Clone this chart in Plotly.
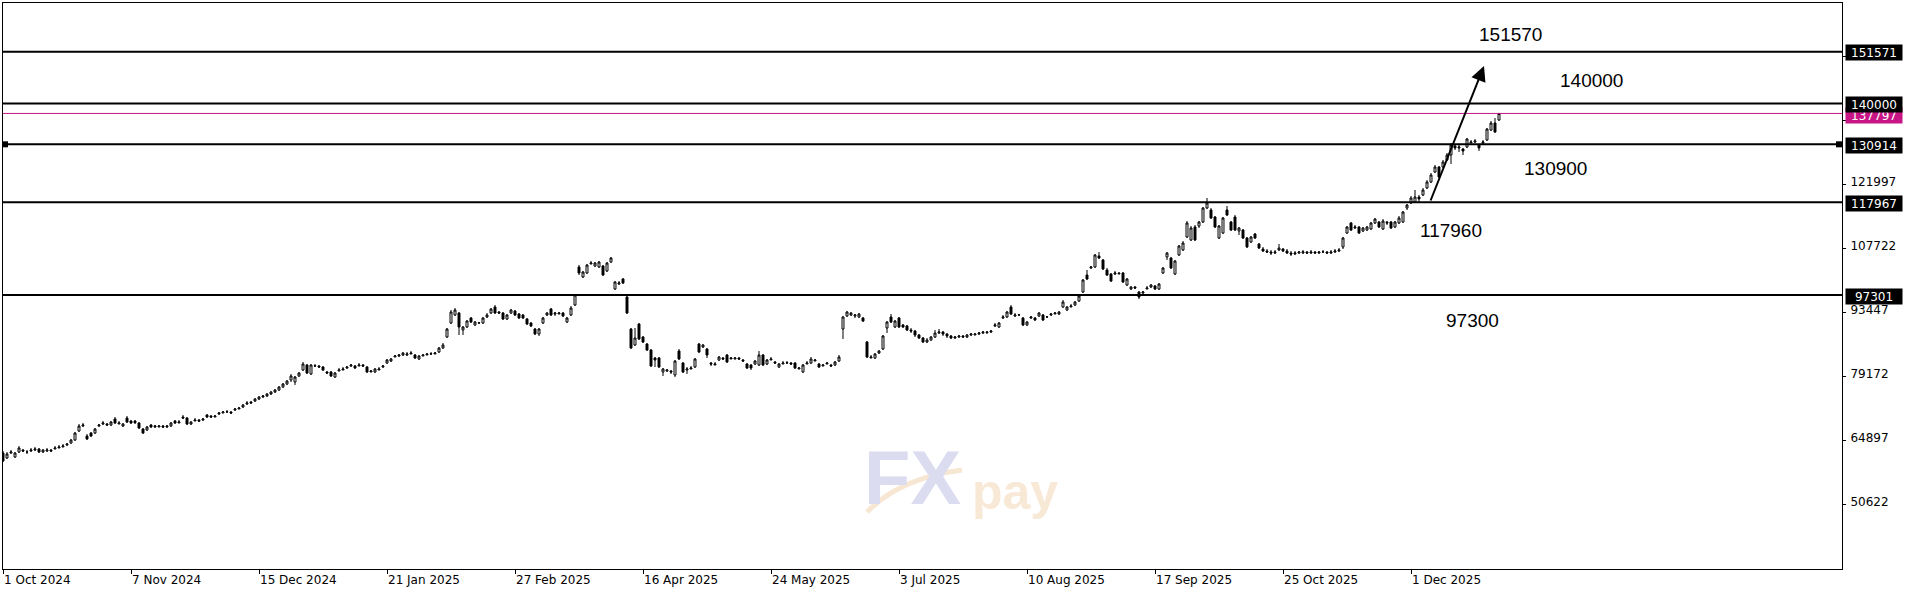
import plotly.graph_objects as go

# daily candles (price units)
opens = [
    62058, 60942, 62058, 61166, 62281, 62727, 62281, 62504, 62727, 62950,
    62281, 62504, 62727, 62950, 63173, 63396, 63843, 64289, 64958, 66965,
    68080, 65850, 66519, 66519, 68080, 68527, 68527, 68304, 69642, 68527,
    68080, 69865, 69196, 69196, 68750, 67411, 67188, 68304, 67857, 67857,
    68080, 67857, 68080, 69196, 68750, 70088, 69865, 68527, 69196, 69419,
    69419, 70534, 70311, 70088, 70757, 70980, 71203, 71203, 71649, 71872,
    72318, 72988, 73434, 73657, 74103, 74549, 74772, 75218, 75665, 76111,
    76780, 77449, 78341, 77895, 79234, 80572, 81687, 79680, 81464, 81464,
    81241, 80126, 80126, 79010, 80349, 80572, 81018, 81464, 81464, 81464,
    81687, 81241, 80126, 80126, 80572, 81241, 82133, 82579, 83472, 83695,
    83918, 83918, 84141, 83918, 83026, 83695, 83918, 84141, 84141, 84587,
    85479, 87933, 91056, 92840, 93286, 89494, 90164, 92171, 90610, 91056,
    91056, 92394, 93286, 94625, 93509, 93286, 91948, 93286, 93732, 93063,
    92840, 91948, 91056, 89717, 88602, 91056, 92840, 94179, 93063, 93063,
    93286, 91279, 92840, 95071, 103547, 101316, 102209, 104216, 103770, 103547,
    103770, 102655, 104662, 98640, 99755, 100870, 96855, 89717, 86149, 90833,
    87933, 86372, 85033, 83249, 83249, 80126, 80349, 80349, 79457, 84810,
    82133, 80572, 80795, 81241, 86372, 85703, 85256, 82133, 81687, 82802,
    83249, 83918, 83026, 83026, 83249, 82802, 81910, 81687, 81910, 81687,
    83918, 81910, 82802, 82356, 81241, 81910, 82133, 82133, 82133, 80795,
    80126, 81910, 82133, 82579, 81910, 81464, 81910, 81687, 81687, 82579,
    89717, 92617, 92840, 92617, 92394, 92171, 86818, 83249, 83249, 84364,
    85256, 89941, 92394, 90164, 92171, 90610, 90387, 89494, 89271, 88379,
    87710, 86818, 87264, 87933, 88825, 89048, 88602, 88156, 87710, 87933,
    88156, 87933, 88379, 88379, 88602, 88825, 88900, 89048, 90387, 90164,
    92171, 92394, 94625, 92617, 92840, 92171, 90610, 92171, 92171, 92617,
    92840, 92394, 92840, 93063, 93063, 94625, 93955, 94625, 95071, 95963,
    97971, 101763, 103324, 103547, 106001, 105108, 102878, 101986, 101986, 101986,
    102209, 99532, 98640, 99086, 97971, 97748, 98640, 99086, 99309, 98640,
    102209, 105778, 105554, 101986, 106224, 107339, 110239, 109570, 112470, 112693,
    113585, 116708, 116261, 114700, 110016, 111131, 116261, 113585, 114700, 111577,
    111800, 110016, 109124, 110908, 108678, 107562, 107116, 106893, 106670, 107339,
    107562, 107116, 106670, 106447, 106670, 106670, 106893, 106670, 106893, 106670,
    106893, 106893, 106670, 106893, 107116, 108008, 111131, 113362, 112247, 112470,
    111577, 111800, 112023, 113362, 113585, 112023, 113585, 113585, 112470, 113362,
    113585, 116708, 117823, 118046, 119161, 119607, 121169, 122507, 124738, 125853,
    125853, 127414, 128530, 130538, 130091, 129868, 130314, 131207, 131430, 130761,
    131207, 131876, 134106, 135668, 136337,
]
highs = [
    62504, 62281, 62727, 62281, 63619, 62950, 62727, 63173, 63396, 63173,
    62950, 63173, 62950, 63619, 63843, 64066, 64289, 65181, 66742, 68527,
    68750, 66296, 66742, 67634, 68527, 69196, 68750, 69196, 70088, 69196,
    68750, 70311, 69419, 69419, 68973, 67634, 68080, 68527, 68304, 68304,
    68304, 68304, 68973, 69419, 69419, 70534, 70088, 69196, 69865, 69642,
    69865, 70757, 70534, 70534, 71203, 71426, 71649, 71426, 72095, 72318,
    72988, 73657, 73657, 74326, 74772, 74995, 75441, 75888, 76334, 77003,
    77672, 78341, 79680, 79234, 80126, 82356, 81910, 81910, 81910, 81687,
    81464, 80349, 80349, 80126, 81018, 81241, 81464, 81910, 81687, 82133,
    81910, 81464, 80572, 81018, 81241, 81687, 83026, 83249, 83918, 84141,
    84587, 84587, 84810, 84141, 83918, 84141, 84364, 84587, 84587, 85703,
    86595, 89941, 93955, 94402, 93509, 90387, 91725, 92394, 91502, 91279,
    92394, 93286, 94402, 95071, 93732, 93509, 93063, 94179, 93955, 93286,
    93063, 92171, 91279, 89941, 89941, 92394, 93509, 94402, 93509, 93509,
    93509, 92394, 94848, 97525, 103993, 102655, 104216, 104885, 104662, 104885,
    103993, 104662, 105778, 100424, 100424, 101093, 97078, 89941, 89941, 91056,
    88156, 86595, 85256, 83472, 83472, 81018, 80795, 80572, 82802, 85256,
    82356, 81241, 81464, 83249, 86595, 86372, 85479, 82356, 82356, 83695,
    83472, 84141, 83472, 83472, 83472, 83026, 82133, 81910, 82802, 84810,
    84141, 83026, 83472, 82579, 82133, 82579, 82579, 82356, 82356, 81241,
    81910, 82579, 83472, 83026, 82133, 81910, 82356, 81910, 82579, 83918,
    92617, 93732, 93509, 93063, 93286, 92394, 87041, 83918, 84364, 85033,
    88379, 91502, 93063, 91725, 92394, 90833, 90610, 89941, 89494, 88602,
    87933, 87710, 88156, 89494, 89717, 89271, 88825, 88379, 88156, 88379,
    88379, 88602, 88825, 88825, 89048, 89271, 89271, 89494, 91056, 91279,
    92840, 93732, 95071, 93286, 93063, 92394, 91502, 92617, 92394, 93509,
    93063, 92617, 93286, 93509, 93732, 96186, 94848, 95294, 95963, 97301,
    100870, 102878, 103770, 106447, 106893, 105331, 103324, 102209, 102655, 102432,
    102432, 101093, 99309, 99309, 98194, 98194, 99309, 99755, 99532, 99978,
    103547, 106893, 105778, 105108, 108455, 109347, 113808, 112693, 112916, 113808,
    116931, 118938, 116708, 114923, 112916, 114700, 117154, 113808, 115146, 112470,
    112023, 110239, 110462, 111131, 108901, 108008, 107562, 107339, 107339, 108678,
    107785, 107562, 107116, 107116, 107116, 107339, 107116, 107339, 107116, 107116,
    107339, 107116, 107339, 107562, 107785, 110239, 112693, 113585, 112916, 112693,
    112470, 112693, 113585, 114477, 113808, 114254, 113808, 113808, 113808, 114923,
    116038, 117600, 119384, 120723, 119607, 121169, 122953, 124515, 126299, 126076,
    127414, 128976, 131207, 130984, 130761, 130091, 132322, 131876, 132099, 130984,
    131876, 134552, 136114, 136783, 137898,
]
lows = [
    60050, 60719, 61835, 60942, 62058, 62281, 61835, 62281, 62504, 62058,
    62058, 62281, 62281, 62950, 63173, 63396, 63619, 64066, 64735, 66742,
    67857, 64958, 65627, 66296, 67857, 68304, 68080, 68080, 68527, 68527,
    67857, 68750, 68527, 68527, 67411, 66296, 66965, 67634, 67634, 67857,
    67634, 67634, 67857, 68527, 68750, 69642, 68304, 68304, 69196, 68973,
    69196, 69865, 69865, 70088, 70534, 70980, 70980, 70757, 71426, 71872,
    72095, 72765, 72988, 73434, 73880, 74326, 74549, 74995, 75441, 75888,
    76557, 77226, 77895, 77226, 79010, 80349, 79680, 79457, 81241, 81018,
    80349, 79680, 79010, 78787, 80349, 80572, 80795, 81241, 80795, 81464,
    81241, 79903, 80126, 79903, 80572, 81018, 81910, 82356, 83472, 83472,
    83695, 83695, 84141, 83026, 82802, 83695, 83918, 83918, 84141, 84364,
    85256, 87710, 90833, 92617, 88379, 88379, 89941, 91056, 90387, 90833,
    90833, 92171, 93063, 93063, 93063, 91725, 91725, 93063, 92617, 91948,
    91948, 90610, 90164, 88379, 88156, 90833, 92617, 92617, 92617, 93063,
    92394, 91056, 92617, 94848, 101763, 101093, 101986, 104216, 103547, 103324,
    101540, 102432, 104439, 98417, 99532, 99755, 93063, 85256, 85926, 87264,
    86595, 84810, 81241, 81241, 81018, 79234, 80126, 79680, 79010, 82802,
    79903, 79680, 80795, 81018, 84364, 85479, 83249, 81464, 81687, 82579,
    82802, 82133, 83026, 82950, 82802, 82356, 80795, 80572, 81687, 81464,
    81464, 81687, 82802, 81910, 81018, 81910, 81910, 81687, 80795, 80795,
    79903, 81910, 81910, 82579, 81018, 81464, 81910, 81241, 81464, 82356,
    87487, 92394, 92617, 92171, 92171, 91279, 83249, 83249, 83026, 84141,
    85033, 88825, 91056, 89941, 89941, 89941, 89271, 88825, 87933, 87487,
    86595, 86595, 87041, 87710, 88602, 88156, 87710, 87487, 87487, 87710,
    87710, 87710, 88156, 88379, 88379, 88602, 88602, 88825, 90164, 89941,
    91948, 92171, 92840, 92394, 92617, 90387, 90387, 91948, 91502, 92394,
    91502, 92171, 92617, 93063, 92840, 94402, 93732, 94625, 94848, 95740,
    97748, 100647, 103101, 103324, 105331, 102878, 101540, 100201, 101763, 101986,
    99978, 99309, 98417, 98640, 96409, 97525, 98640, 98863, 98417, 98417,
    101986, 105108, 103101, 101763, 106001, 107116, 110016, 109347, 109347, 112247,
    113362, 116485, 114254, 112247, 109793, 110908, 114923, 111577, 111577, 110685,
    109793, 107785, 108901, 109793, 107562, 106893, 106670, 106224, 106447, 107116,
    106893, 106447, 106001, 106224, 106447, 106447, 106447, 106447, 106447, 106447,
    106670, 106447, 106447, 106670, 106893, 107562, 110908, 111577, 112023, 110908,
    111354, 111577, 111800, 113139, 112247, 111800, 112916, 112023, 112247, 113139,
    113362, 116261, 117600, 117823, 117823, 119384, 120946, 122284, 124515, 123399,
    125630, 127191, 126522, 129645, 129199, 128530, 130091, 131207, 131207, 129422,
    130761, 131653, 133883, 133437, 136114,
]
closes = [
    60273, 61835, 62281, 62058, 63173, 62504, 62281, 62727, 62950, 62281,
    62727, 62727, 62504, 63173, 63396, 63619, 64066, 64958, 66519, 68080,
    68304, 65181, 65850, 67411, 68304, 68750, 68304, 68973, 68750, 68750,
    68527, 68973, 68750, 68800, 67634, 66519, 67857, 67857, 68080, 68080,
    67857, 68080, 68750, 68750, 68973, 69865, 68527, 68973, 69419, 69196,
    69642, 70088, 70088, 70311, 70980, 71203, 71250, 70980, 71872, 72095,
    72765, 73211, 73211, 74103, 74549, 74772, 75218, 75665, 76111, 76780,
    77449, 78118, 79234, 79010, 79903, 81910, 79903, 81687, 81500, 81241,
    80572, 79903, 79234, 79903, 80572, 80795, 81241, 81687, 81018, 81687,
    81464, 80126, 80349, 80795, 80795, 81464, 82802, 83026, 83695, 83918,
    84364, 84141, 84364, 83249, 83695, 83918, 84141, 84180, 84364, 85479,
    86149, 89717, 93509, 93955, 90164, 90164, 91502, 91279, 91279, 91100,
    92171, 92840, 94179, 93286, 93286, 91948, 92840, 93955, 92840, 92171,
    92171, 90833, 90387, 88602, 89717, 92171, 93286, 92840, 93286, 93286,
    92617, 92171, 94402, 97301, 102209, 102432, 103993, 104439, 104439, 104662,
    101763, 104439, 105554, 100201, 99978, 99978, 93286, 85479, 87710, 87487,
    86818, 85033, 81464, 82802, 81241, 80795, 80572, 80126, 82579, 83026,
    80126, 80795, 81018, 83026, 84587, 86149, 83918, 81910, 81910, 83472,
    83026, 82356, 83249, 83249, 83026, 82579, 81018, 81018, 82579, 83918,
    81687, 82802, 83026, 82133, 81910, 82133, 82180, 81910, 81018, 81018,
    81687, 82133, 83026, 82802, 81241, 81687, 82133, 81464, 82356, 83472,
    92394, 93509, 93286, 92840, 93063, 91502, 83472, 83472, 84141, 84810,
    88156, 91279, 91279, 91502, 90164, 90164, 89494, 89271, 88379, 87710,
    86818, 87264, 87933, 88825, 89048, 88602, 88156, 87710, 87933, 88156,
    87933, 88379, 88602, 88602, 88825, 89048, 89048, 89271, 90610, 91056,
    92394, 93509, 93063, 92840, 92880, 90610, 91279, 92394, 91725, 93286,
    91725, 92420, 93063, 93286, 93509, 95740, 94625, 94848, 95740, 97078,
    100647, 100870, 103547, 106224, 105554, 103101, 101763, 100424, 102209, 102150,
    100201, 100870, 99086, 98863, 96855, 97971, 98863, 99532, 98640, 99755,
    103324, 106670, 103324, 104885, 108232, 108901, 113362, 112247, 109570, 113585,
    116708, 117823, 114477, 112470, 112693, 114477, 115146, 111800, 111800, 112247,
    110016, 108008, 110239, 110016, 107785, 107116, 106893, 106670, 106893, 107785,
    107116, 106670, 106447, 106670, 106893, 106950, 106670, 106893, 106670, 106893,
    106920, 106670, 106893, 107116, 107339, 110016, 112470, 111800, 112470, 111131,
    112247, 112470, 113362, 114254, 112470, 113808, 113362, 112247, 113585, 114477,
    115815, 117377, 118938, 119161, 118715, 120723, 122507, 124069, 125853, 123622,
    126968, 128530, 130761, 130091, 130314, 129422, 132099, 131430, 131653, 130091,
    131430, 134329, 135668, 133660, 137797,
]

date_ticks = ["1 Oct 2024", "7 Nov 2024", "15 Dec 2024", "21 Jan 2025", "27 Feb 2025", "16 Apr 2025",
              "24 May 2025", "3 Jul 2025", "10 Aug 2025", "17 Sep 2025", "25 Oct 2025", "1 Dec 2025"]
price_ticks = [50622, 64897, 79172, 93447, 107722, 121997, 136272, 150547]
levels = [151571, 140000, 130914, 117967, 97301]
last_price = 137797
level_notes = ["151570", "140000", "130900", "117960", "97300"]

assert len(opens) == len(highs) == len(lows) == len(closes)
bars = list(range(len(closes)))

fig = go.Figure(go.Candlestick(
    x=bars, open=opens, high=highs, low=lows, close=closes,
    increasing=dict(line=dict(color='black', width=1), fillcolor='white'),
    decreasing=dict(line=dict(color='black', width=1), fillcolor='black'),
    whiskerwidth=0,
))

fig.update_layout(
    width=1920,
    height=596,
    margin=dict(l=3, r=78, t=3, b=27),
    plot_bgcolor='white',
    paper_bgcolor='white',
    showlegend=False,
    font=dict(family='DejaVu Sans', size=12, color='black'),
    xaxis=dict(
        range=[0, 459.75],
        rangeslider=dict(visible=False),
        tickmode='array',
        tickvals=[i * 32 for i in range(len(date_ticks))],
        ticktext=date_ticks,
        ticks='outside',
        ticklen=4,
        tickcolor='black',
        ticklabelposition='outside right',
        showgrid=False,
        zeroline=False,
        showline=True,
        linecolor='black',
        linewidth=1,
        mirror=True,
        automargin=False
    ),
    yaxis=dict(
        side='right',
        range=[36183, 162434],
        tickmode='array',
        tickvals=price_ticks,
        ticktext=[str(v) for v in price_ticks],
        ticks='outside',
        ticklen=3,
        tickcolor='black',
        ticklabelshift=-2,
        ticklabelstandoff=2,
        showgrid=False,
        zeroline=False,
        showline=True,
        linecolor='black',
        linewidth=1,
        mirror=True,
        automargin=False
    ),
)

# horizontal levels
for v in levels:
    fig.add_shape(type='line', xref='paper', x0=0, x1=1, yref='y', y0=v, y1=v,
                  line=dict(color='black', width=2))
fig.add_shape(type='line', xref='paper', x0=0, x1=1, yref='y', y0=last_price, y1=last_price,
              line=dict(color='#C71585', width=1))

# little selection squares on the 130914 line
for xa, (px0, px1) in [(0, (0, 5)), (1, (-6, 0))]:
    fig.add_shape(type='rect', xref='paper', xsizemode='pixel', xanchor=xa, x0=px0, x1=px1,
                  yref='y', ysizemode='pixel', yanchor=levels[2], y0=-3, y1=3,
                  fillcolor='black', line=dict(width=0))

# price tags on the right
fig.add_annotation(xref='paper', x=1, xanchor='left', xshift=3, yref='y', y=last_price, yshift=-2,
                   text=str(last_price), showarrow=False, bgcolor='#C71585', width=54, height=13,
                   borderpad=1, font=dict(color='white', size=12, family='DejaVu Sans'))
for v in levels:
    fig.add_annotation(xref='paper', x=1, xanchor='left', xshift=3, yref='y', y=v, yshift=-1,
                       text=str(v), showarrow=False, bgcolor='black', width=54, height=13,
                       borderpad=1, font=dict(color='white', size=12, family='DejaVu Sans'))

# level notes inside the chart
note_pos = [(376.9, 155519), (397.1, 145146), (388.1, 125629), (362.0, 111623), (367.25, 91724)]
for txt, (bx, by) in zip(level_notes, note_pos):
    fig.add_annotation(x=bx, y=by, text=txt, showarrow=False,
                       font=dict(family='Liberation Sans', size=19, color='black'))

# trend arrow
fig.add_annotation(x=370.25, y=148382, ax=356.75, ay=118046, axref='x', ayref='y',
                   text='', showarrow=True, arrowhead=2, arrowsize=1.5, arrowwidth=2,
                   arrowcolor='black')

# watermark
fig.add_shape(type='path', xref='paper', yref='paper',
              path='M 0.4698 0.1007 Q 0.4878 0.1608 0.5215 0.1749',
              line=dict(color='#f7e6d2', width=5))
fig.add_annotation(xref='paper', yref='paper', x=0.4948, y=0.1608, xanchor='center', yanchor='middle',
                   text='<b>FX</b>', showarrow=False,
                   font=dict(family='Liberation Sans', size=76, color='#dcdcf0'))
fig.add_annotation(xref='paper', yref='paper', x=0.5503, y=0.136, xanchor='center', yanchor='middle',
                   text='<b>pay</b>', showarrow=False,
                   font=dict(family='Liberation Sans', size=50, color='#f8e8d6'))

fig.write_html("out.html", config={'displayModeBar': False},
               post_script="document.body.style.margin='0px';")
